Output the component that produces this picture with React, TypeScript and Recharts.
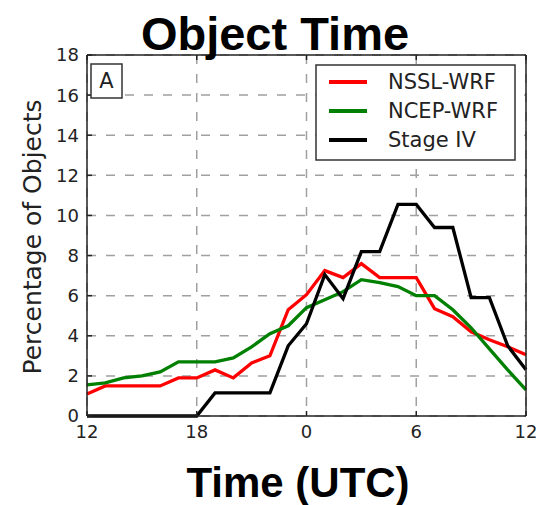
import React from 'react'
import { LineChart, Line, XAxis, YAxis, CartesianGrid } from 'recharts'

// hours after 12 UTC, one sample per hour
const hours = [0, 1, 2, 3, 4, 5, 6, 7, 8, 9, 10, 11, 12, 13, 14, 15, 16, 17, 18, 19, 20, 21, 22, 23, 24]

const nsslWrf = [1.1, 1.5, 1.5, 1.5, 1.5, 1.9, 1.9, 2.3, 1.9, 2.65, 3.0, 5.3, 6.05, 7.25, 6.9, 7.6, 6.9, 6.9, 6.9, 5.35, 4.95, 4.2, 3.8, 3.45, 3.05]
const ncepWrf = [1.55, 1.65, 1.9, 2.0, 2.2, 2.7, 2.7, 2.7, 2.9, 3.45, 4.1, 4.5, 5.4, 5.8, 6.2, 6.8, 6.65, 6.45, 6.0, 6.0, 5.3, 4.4, 3.35, 2.3, 1.3]
const stageIV = [0, 0, 0, 0, 0, 0, 0, 1.15, 1.15, 1.15, 1.15, 3.5, 4.6, 7.05, 5.85, 8.2, 8.2, 10.55, 10.55, 9.4, 9.4, 5.9, 5.9, 3.5, 2.3]

const xTicks = [0, 6, 12, 18, 24]
const xTickLabels = ['12', '18', '0', '6', '12']
const yTicks = [0, 2, 4, 6, 8, 10, 12, 14, 16, 18]

const series = [
  { key: 'nssl', name: 'NSSL-WRF', color: '#ff0000', values: nsslWrf },
  { key: 'ncep', name: 'NCEP-WRF', color: '#008000', values: ncepWrf },
  { key: 'stage4', name: 'Stage IV', color: '#000000', values: stageIV },
]

const data = hours.map((h, i) => {
  const row: Record<string, number> = { hour: h }
  series.forEach((s) => { row[s.key] = s.values[i] })
  return row
})

const tickFont = { fontFamily: 'DejaVu Sans', fontSize: 18, fill: '#222' }
const frame = { stroke: '#222', strokeWidth: 1.5 }

const emptyTick = () => <g />

export default function App() {
  return (
    <div style={{ position: 'absolute', left: 0, top: 0, width: 536, height: 505, background: '#fff' }}>
      <LineChart width={536} height={505} data={data} margin={{ top: 50, right: 0, bottom: 0, left: 0 }}>
        <CartesianGrid strokeDasharray="9 10" stroke="#a0a0a0" strokeWidth={1.5} />
        <XAxis
          dataKey="hour" type="number" domain={[0, 24]} ticks={xTicks}
          tickFormatter={(v: number) => xTickLabels[xTicks.indexOf(v)]}
          height={89} tickSize={-5} tickMargin={14} tick={tickFont}
          axisLine={frame} tickLine={frame}
        />
        <XAxis
          xAxisId="top" orientation="top" dataKey="hour" type="number" domain={[0, 24]} ticks={xTicks}
          height={5} tickSize={-5} tick={emptyTick} axisLine={frame} tickLine={frame}
        />
        <YAxis
          domain={[0, 18]} ticks={yTicks} width={87} tickSize={-5} tickMargin={13}
          tick={tickFont} axisLine={frame} tickLine={frame}
        />
        <YAxis
          yAxisId="right" orientation="right" domain={[0, 18]} ticks={yTicks} width={10}
          tickSize={-5} tick={emptyTick} axisLine={frame} tickLine={frame}
        />
        {series.map((s) => (
          <Line
            key={s.key} dataKey={s.key} name={s.name} stroke={s.color} strokeWidth={3.3}
            dot={false} activeDot={false} isAnimationActive={false} strokeLinejoin="miter"
          />
        ))}
      </LineChart>
      <svg width={536} height={505} style={{ position: 'absolute', left: 0, top: 0, pointerEvents: 'none' }}>
        <text x={275} y={50} textAnchor="middle" fontFamily="Liberation Sans" fontWeight="bold" fontSize={47} fill="#000">Object Time</text>
        <text x={298} y={497} textAnchor="middle" fontFamily="Liberation Sans" fontWeight="bold" fontSize={42} fill="#000">Time (UTC)</text>
        <text
          x={32} y={237} transform="rotate(-90 32 237)" textAnchor="middle" dominantBaseline="central"
          fontFamily="DejaVu Sans" fontSize={25} fill="#222"
        >Percentage of Objects</text>
        <rect x={91} y={64} width={31} height={34} fill="#fff" stroke="#333" strokeWidth={1.5} />
        <text x={106.5} y={81} textAnchor="middle" dominantBaseline="central" fontFamily="DejaVu Sans" fontSize={21} fill="#222">A</text>
        {/* legend box */}
        <rect x={316} y={65} width={199} height={95} fill="#fff" stroke="#333" strokeWidth={1.5} />
        {series.map((s, i) => (
          <g key={s.key}>
            <line x1={329} x2={367} y1={82 + i * 29} y2={82 + i * 29} stroke={s.color} strokeWidth={4} />
            <text x={388} y={82 + i * 29} dominantBaseline="central" fontFamily="DejaVu Sans" fontSize={21} fill="#222">{s.name}</text>
          </g>
        ))}
      </svg>
    </div>
  )
}
